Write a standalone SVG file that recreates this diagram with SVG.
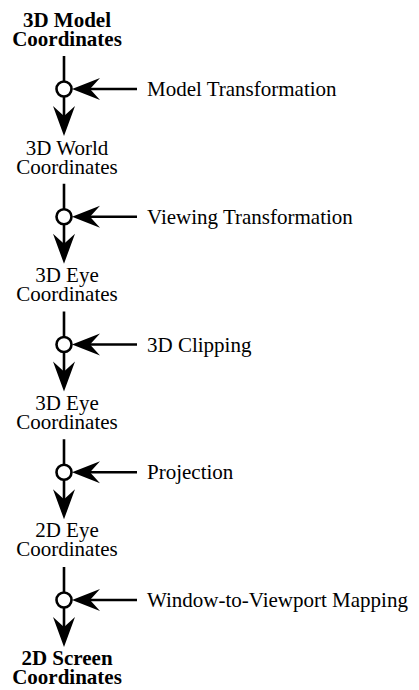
<svg xmlns="http://www.w3.org/2000/svg" width="419" height="690" viewBox="0 0 419 690">
  <style>
    text { font-family: "Liberation Serif", "Times New Roman", serif; font-size: 21px; fill: #000; }
    .coord { text-anchor: middle; }
    .bold { font-weight: bold; }
    .shaft { stroke: #000; stroke-width: 2.6; fill: none; }
    .junction { stroke: #000; stroke-width: 2.6; fill: #fff; }
    .head { fill: #000; stroke: none; }
  </style>
  <defs>
    <!-- one pipeline stage: input shaft, junction circle, side input, output arrow -->
    <g id="stage">
      <line class="shaft" x1="64" y1="-33" x2="64" y2="-7.5"/>
      <line class="shaft" x1="64" y1="7.5" x2="64" y2="36"/>
      <path class="head" d="M64,47 L53,17 L64,27 L75,17 Z"/>
      <line class="shaft" x1="80" y1="0" x2="137" y2="0"/>
      <path class="head" d="M72,0 L100,-11 L90,0 L100,11 Z"/>
      <circle class="junction" cx="64" cy="0" r="7.5"/>
    </g>
  </defs>

  <g id="node-model">
    <text class="coord bold" x="67" y="27">3D Model</text>
    <text class="coord bold" x="67" y="46">Coordinates</text>
  </g>
  <g id="node-world">
    <text class="coord" x="67" y="154.5">3D World</text>
    <text class="coord" x="67" y="173.5">Coordinates</text>
  </g>
  <g id="node-eye3d">
    <text class="coord" x="67" y="282">3D Eye</text>
    <text class="coord" x="67" y="301">Coordinates</text>
  </g>
  <g id="node-eye3d-clipped">
    <text class="coord" x="67" y="409.5">3D Eye</text>
    <text class="coord" x="67" y="428.5">Coordinates</text>
  </g>
  <g id="node-eye2d">
    <text class="coord" x="67" y="537">2D Eye</text>
    <text class="coord" x="67" y="556">Coordinates</text>
  </g>
  <g id="node-screen">
    <text class="coord bold" x="67" y="664.5">2D Screen</text>
    <text class="coord bold" x="67" y="683.5">Coordinates</text>
  </g>

  <g id="connectors">
    <use href="#stage" transform="translate(0,89)"/>
    <use href="#stage" transform="translate(0,216.75)"/>
    <use href="#stage" transform="translate(0,344.5)"/>
    <use href="#stage" transform="translate(0,472.25)"/>
    <use href="#stage" transform="translate(0,600)"/>
  </g>

  <g id="transform-labels">
    <text x="147" y="96">Model Transformation</text>
    <text x="147" y="223.75">Viewing Transformation</text>
    <text x="147" y="351.5">3D Clipping</text>
    <text x="147" y="479.25">Projection</text>
    <text x="147" y="607">Window-to-Viewport Mapping</text>
  </g>
</svg>
